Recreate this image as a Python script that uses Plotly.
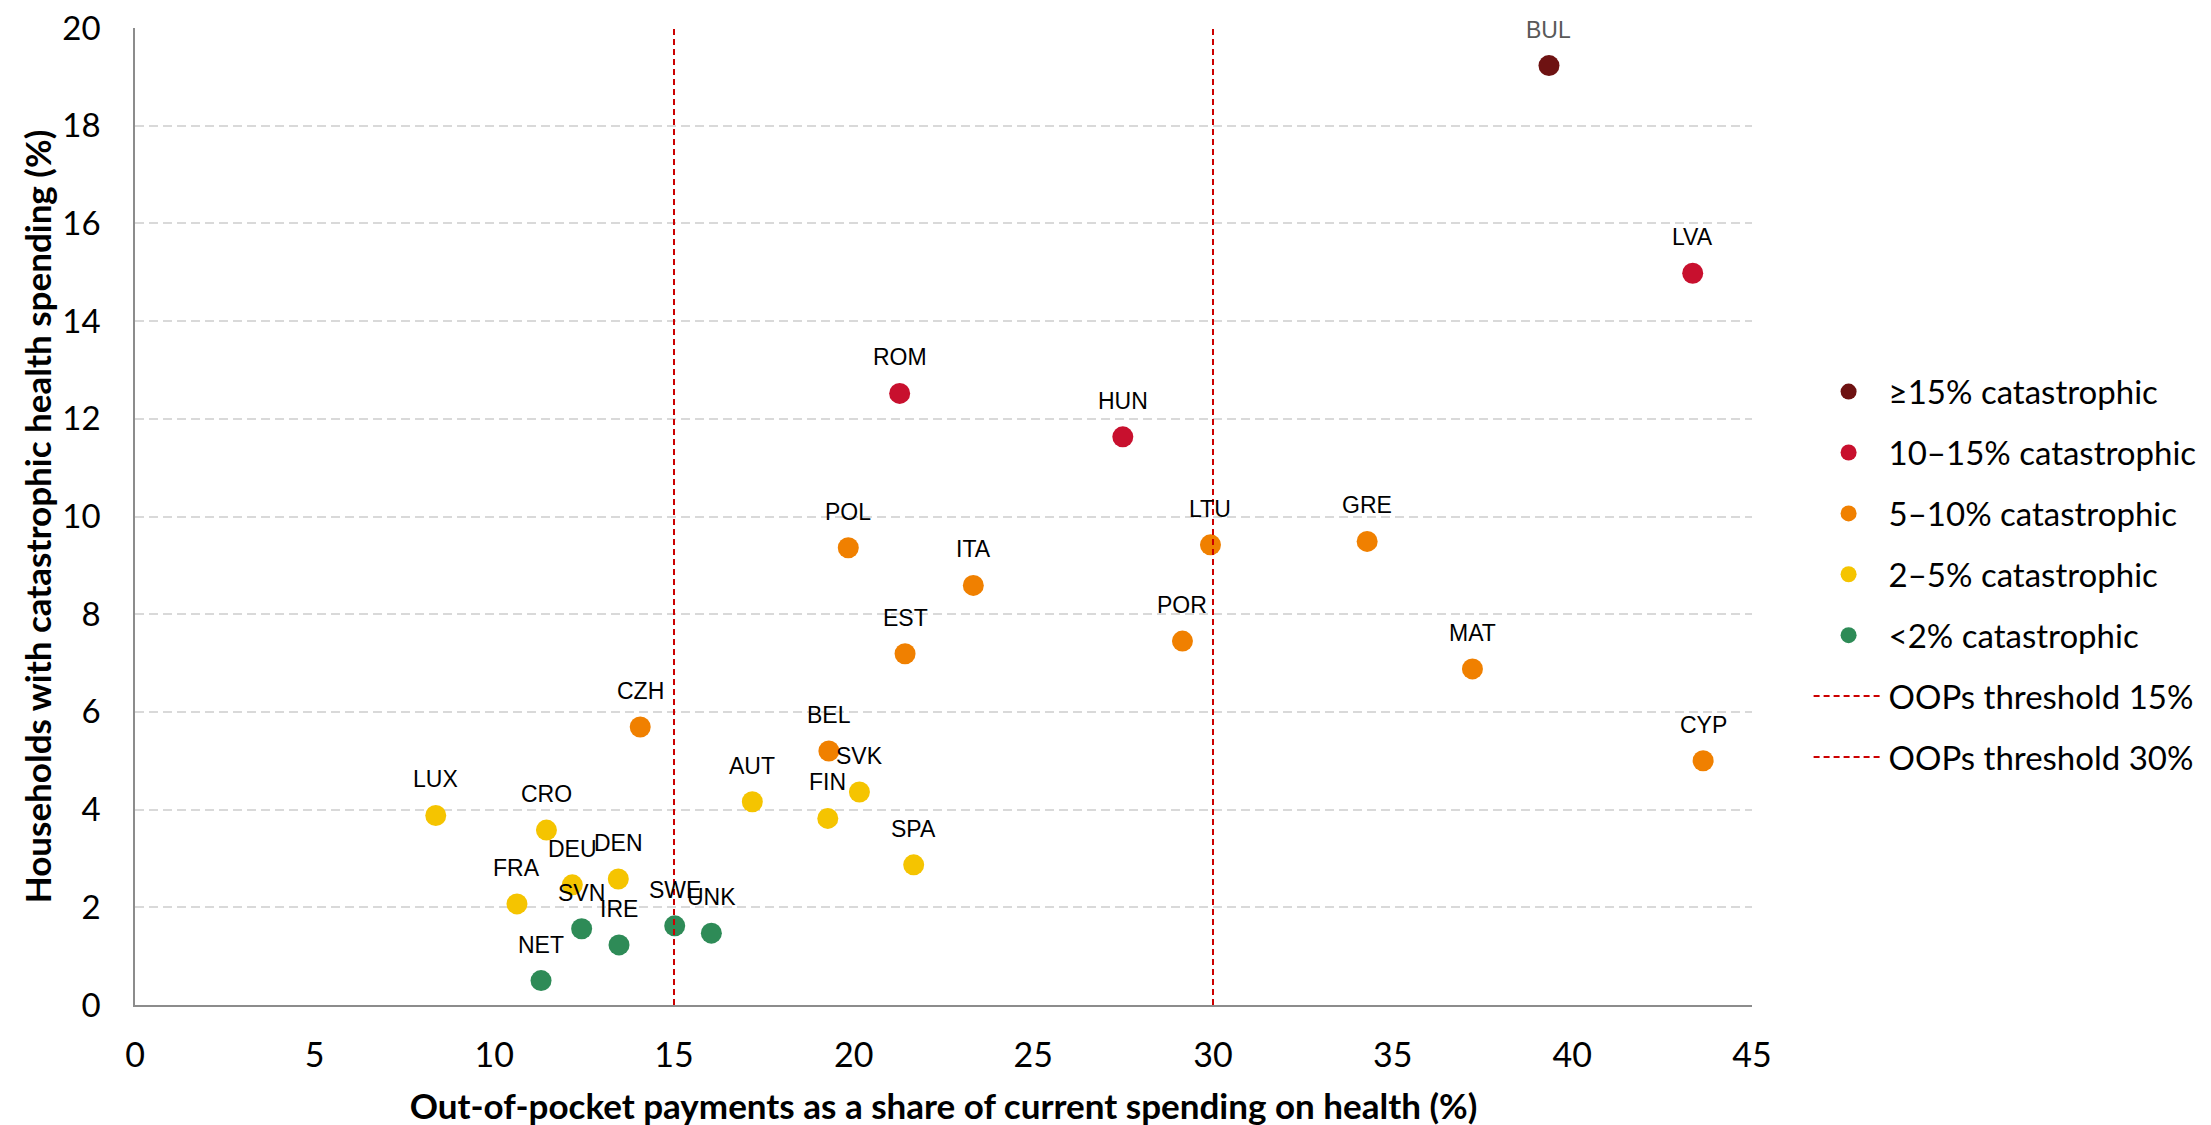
import plotly.graph_objects as go

# ---- data ----
countries = ["BUL", "LVA", "ROM", "HUN", "POL", "ITA", "EST", "LTU", "GRE", "POR",
             "MAT", "CYP", "CZH", "BEL", "LUX", "CRO", "DEU", "DEN", "FRA", "AUT",
             "SVK", "FIN", "SPA", "SVN", "IRE", "SWE", "UNK", "NET"]
oop_share = [39.35, 43.35, 21.28, 27.49, 19.85, 23.33, 21.43, 29.93, 34.29, 29.15,
             37.22, 43.64, 14.06, 19.31, 8.37, 11.45, 12.17, 13.45, 10.63, 17.18,
             20.16, 19.28, 21.67, 12.43, 13.47, 15.02, 16.04, 11.30]
catastrophic = [19.23, 14.98, 12.52, 11.63, 9.36, 8.59, 7.19, 9.42, 9.49, 7.45,
                6.88, 5.00, 5.69, 5.20, 3.88, 3.58, 2.46, 2.58, 2.07, 4.16,
                4.36, 3.82, 2.87, 1.56, 1.23, 1.62, 1.47, 0.50]
group = ["g15", "g10", "g10", "g10", "g5", "g5", "g5", "g5", "g5", "g5",
         "g5", "g5", "g5", "g5", "g2", "g2", "g2", "g2", "g2", "g2",
         "g2", "g2", "g2", "g0", "g0", "g0", "g0", "g0"]

group_keys = ["g15", "g10", "g5", "g2", "g0"]
group_names = ["≥15% catastrophic", "10–15% catastrophic", "5–10% catastrophic",
               "2–5% catastrophic", "<2% catastrophic"]
group_colors = ["#6E1212", "#C8102E", "#F08000", "#F5C400", "#2E8B57"]

thresholds = [15, 30]
threshold_names = ["OOPs threshold 15%", "OOPs threshold 30%"]
y_span = [0, 20]
y_ticks = [0, 2, 4, 6, 8, 10, 12, 14, 16, 18, 20]

label_font = "Liberation Sans, Arial, sans-serif"
axis_font = "Lato, Open Sans, sans-serif"

fig = go.Figure()

for key, name, color in zip(group_keys, group_names, group_colors):
    xs = [x for x, g in zip(oop_share, group) if g == key]
    ys = [y for y, g in zip(catastrophic, group) if g == key]
    fig.add_trace(go.Scatter(
        x=xs, y=ys, mode="markers", name=name, legendgroup=name,
        marker=dict(size=21, color=color, line=dict(width=0)),
    ))

for t, name in zip(thresholds, threshold_names):
    fig.add_trace(go.Scatter(
        x=[t, t], y=y_span, mode="lines", name=name, legendgroup=name,
        line=dict(color="#CC0000", width=2, dash="6px,4px"),
    ))

for c, x, y in zip(countries, oop_share, catastrophic):
    fig.add_annotation(
        x=x, y=y, text=c, showarrow=False, yshift=36,
        xanchor="center", yanchor="middle",
        font=dict(family=label_font, size=23,
                  color="#595959" if c == "BUL" else "#000000"),
    )

fig.update_layout(
    width=2211, height=1125,
    margin=dict(l=127, r=467, t=20, b=128),
    paper_bgcolor="white", plot_bgcolor="white",
    font=dict(family=axis_font, color="#000000"),
    showlegend=True,
    legend=dict(
        x=1.035, xanchor="left", y=0.4405, yanchor="middle",
        font=dict(family=axis_font, size=33, color="#000000"),
        itemwidth=70, tracegroupgap=15, traceorder="grouped",
        bgcolor="rgba(0,0,0,0)",
    ),
)

fig.update_xaxes(
    range=[0, 45], dtick=5, tick0=0, showgrid=False, zeroline=False,
    automargin=False,
    showline=True, linecolor="#8C8C8C", linewidth=1.5,
    ticks="", ticklabelstandoff=19, ticklabeloverflow="allow",
    tickfont=dict(family=axis_font, size=34, color="#000000"),
    title=dict(text="<b>Out-of-pocket payments as a share of current spending on health (%)</b>",
               font=dict(family=axis_font, size=35, color="#000000"), standoff=22),
)
fig.update_yaxes(
    range=[0, 20], tickvals=y_ticks,
    showgrid=True, gridcolor="#D9D9D9",
    gridwidth=2, griddash="9px,5px", zeroline=False,
    automargin=False,
    showline=True, linecolor="#8C8C8C", linewidth=1.5,
    ticks="", ticklabelstandoff=26, ticklabeloverflow="allow",
    tickfont=dict(family=axis_font, size=33, color="#000000"),
    title=dict(text="<b>Households with catastrophic health spending (%)</b>",
               font=dict(family=axis_font, size=35, color="#000000"), standoff=0),
)

fig.write_html("out.html")
